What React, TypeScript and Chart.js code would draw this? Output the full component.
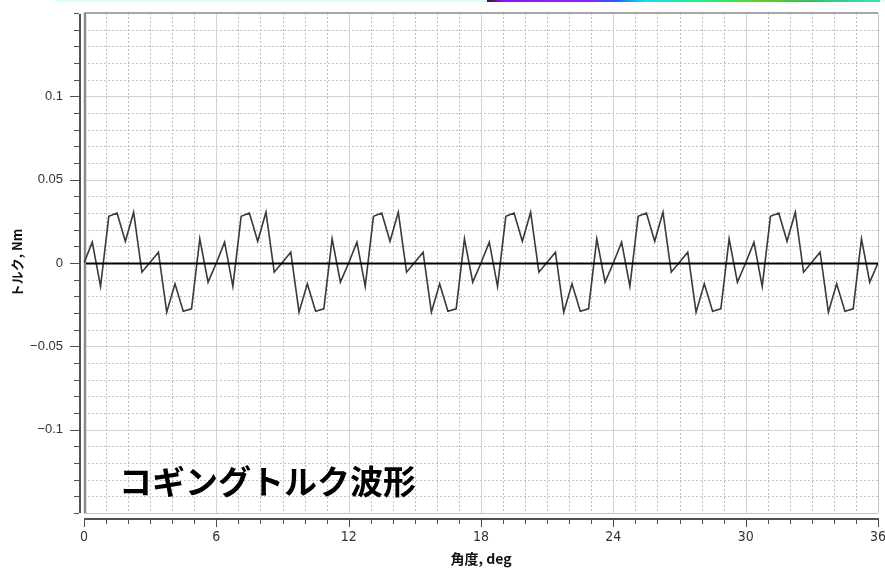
import { useEffect, useRef } from 'react';
import { Chart, registerables } from 'chart.js';

Chart.register(...registerables);

// Rotor angle (deg) of each sample
const angles = [
  0, 0.375, 0.75, 1.125, 1.5, 1.875, 2.25, 2.625, 3, 3.375, 3.75, 4.125, 4.5, 4.875, 5.25, 5.625,
  6, 6.375, 6.75, 7.125, 7.5, 7.875, 8.25, 8.625, 9, 9.375, 9.75, 10.125, 10.5, 10.875, 11.25, 11.625,
  12, 12.375, 12.75, 13.125, 13.5, 13.875, 14.25, 14.625, 15, 15.375, 15.75, 16.125, 16.5, 16.875, 17.25, 17.625,
  18, 18.375, 18.75, 19.125, 19.5, 19.875, 20.25, 20.625, 21, 21.375, 21.75, 22.125, 22.5, 22.875, 23.25, 23.625,
  24, 24.375, 24.75, 25.125, 25.5, 25.875, 26.25, 26.625, 27, 27.375, 27.75, 28.125, 28.5, 28.875, 29.25, 29.625,
  30, 30.375, 30.75, 31.125, 31.5, 31.875, 32.25, 32.625, 33, 33.375, 33.75, 34.125, 34.5, 34.875, 35.25, 35.625,
  36,
];

// Cogging torque (Nm) at each angle
const torque = [
  0, 0.0125, -0.014, 0.028, 0.03, 0.013, 0.0305, -0.0055, 0.0005, 0.0065, -0.0295, -0.0125, -0.029, -0.0275, 0.0145, -0.0115,
  0, 0.0125, -0.014, 0.028, 0.03, 0.013, 0.0305, -0.0055, 0.0005, 0.0065, -0.0295, -0.0125, -0.029, -0.0275, 0.0145, -0.0115,
  0, 0.0125, -0.014, 0.028, 0.03, 0.013, 0.0305, -0.0055, 0.0005, 0.0065, -0.0295, -0.0125, -0.029, -0.0275, 0.0145, -0.0115,
  0, 0.0125, -0.014, 0.028, 0.03, 0.013, 0.0305, -0.0055, 0.0005, 0.0065, -0.0295, -0.0125, -0.029, -0.0275, 0.0145, -0.0115,
  0, 0.0125, -0.014, 0.028, 0.03, 0.013, 0.0305, -0.0055, 0.0005, 0.0065, -0.0295, -0.0125, -0.029, -0.0275, 0.0145, -0.0115,
  0, 0.0125, -0.014, 0.028, 0.03, 0.013, 0.0305, -0.0055, 0.0005, 0.0065, -0.0295, -0.0125, -0.029, -0.0275, 0.0145, -0.0115,
  0,
];

const xTickValues = [0, 6, 12, 18, 24, 30, 36];
const xTickLabels = ['0', '6', '12', '18', '24', '30', '36'];
const yTickValues = [0.1, 0.05, 0, -0.05, -0.1];
const yTickLabels = ['0.1', '0.05', '0', '\u22120.05', '\u22120.1'];

const xMinorStep = 1;
const yMinorStep = 0.01;
const xMajorStep = 6;
const yMajorStep = 0.05;

const caption = 'コギングトルク波形';
const xTitle = '角度, deg';
const yTitle = 'トルク, Nm';

const isMultiple = (v: number, step: number) => Math.abs(v / step - Math.round(v / step)) < 1e-6;

const gridPlugin = {
  id: 'plotFrame',
  beforeDraw(chart: any) {
    const { ctx, chartArea: a, scales } = chart;
    const x = scales.x;
    const y = scales.y;
    ctx.save();
    ctx.fillStyle = '#ffffff';
    ctx.fillRect(0, 0, chart.width, chart.height);

    // thin strip along the top edge
    ctx.fillStyle = '#d6ffff';
    ctx.fillRect(55, 0, chart.width - 55, 2);
    const g = ctx.createLinearGradient(487, 0, 880, 0);
    g.addColorStop(0, '#202020');
    g.addColorStop(0.04, '#9a10f0');
    g.addColorStop(0.25, '#8a20ff');
    g.addColorStop(0.33, '#2060ff');
    g.addColorStop(0.4, '#10e0f0');
    g.addColorStop(0.55, '#20f080');
    g.addColorStop(0.7, '#60d020');
    g.addColorStop(0.82, '#30c060');
    g.addColorStop(1, '#40e0c0');
    ctx.fillStyle = g;
    ctx.fillRect(487, 0, 393, 2);

    // dotted minor grid
    ctx.lineWidth = 1;
    ctx.strokeStyle = '#c2c2c2';
    ctx.setLineDash([2, 2]);
    for (let v = x.min; v <= x.max + 1e-9; v += xMinorStep) {
      if (isMultiple(v, xMajorStep)) continue;
      const px = Math.round(x.getPixelForValue(v)) + 0.5;
      ctx.beginPath();
      ctx.moveTo(px, a.top);
      ctx.lineTo(px, a.bottom);
      ctx.stroke();
    }
    for (let k = Math.round(y.min / yMinorStep); k <= Math.round(y.max / yMinorStep); k++) {
      const v = k * yMinorStep;
      if (isMultiple(v, yMajorStep)) continue;
      const py = Math.round(y.getPixelForValue(v)) + 0.5;
      ctx.beginPath();
      ctx.moveTo(a.left, py);
      ctx.lineTo(a.right, py);
      ctx.stroke();
    }

    // solid major grid
    ctx.setLineDash([]);
    ctx.strokeStyle = '#d2d2d2';
    for (let v = x.min; v <= x.max + 1e-9; v += xMajorStep) {
      const px = Math.round(x.getPixelForValue(v)) + 0.5;
      ctx.beginPath();
      ctx.moveTo(px, a.top);
      ctx.lineTo(px, a.bottom);
      ctx.stroke();
    }
    for (let k = Math.round(y.min / yMajorStep); k <= Math.round(y.max / yMajorStep); k++) {
      const py = Math.round(y.getPixelForValue(k * yMajorStep)) + 0.5;
      ctx.beginPath();
      ctx.moveTo(a.left, py);
      ctx.lineTo(a.right, py);
      ctx.stroke();
    }

    // plot frame
    ctx.strokeStyle = '#a6a6a6';
    ctx.lineWidth = 2;
    ctx.beginPath();
    ctx.moveTo(a.left, a.top);
    ctx.lineTo(a.right, a.top);
    ctx.stroke();
    ctx.strokeStyle = '#c4c4c4';
    ctx.lineWidth = 1;
    ctx.beginPath();
    ctx.moveTo(a.right + 0.5, a.top);
    ctx.lineTo(a.right + 0.5, a.bottom);
    ctx.moveTo(a.left, a.bottom + 0.5);
    ctx.lineTo(a.right, a.bottom + 0.5);
    ctx.stroke();
    ctx.strokeStyle = '#8c8c8c';
    ctx.lineWidth = 2.5;
    ctx.beginPath();
    ctx.moveTo(a.left + 1, a.top);
    ctx.lineTo(a.left + 1, a.bottom);
    ctx.stroke();

    // detached y axis with ticks
    const axX = a.left - 4;
    ctx.strokeStyle = '#505050';
    ctx.lineWidth = 2;
    ctx.beginPath();
    ctx.moveTo(axX, a.top + 1);
    ctx.lineTo(axX, a.bottom);
    ctx.stroke();
    ctx.lineWidth = 1;
    for (let k = Math.round(y.min / yMinorStep); k <= Math.round(y.max / yMinorStep); k++) {
      const v = k * yMinorStep;
      const major = isMultiple(v, yMajorStep) && Math.abs(v) < y.max - 1e-9;
      const py = Math.round(y.getPixelForValue(v)) + 0.5;
      ctx.beginPath();
      ctx.moveTo(axX - 1, py);
      ctx.lineTo(axX - (major ? 10 : 6), py);
      ctx.stroke();
    }

    // detached x axis with ticks
    const axY = a.bottom + 6;
    ctx.lineWidth = 2;
    ctx.beginPath();
    ctx.moveTo(a.left, axY);
    ctx.lineTo(a.right + 1, axY);
    ctx.stroke();
    ctx.lineWidth = 1;
    for (let v = x.min; v <= x.max + 1e-9; v += xMinorStep) {
      const major = isMultiple(v, xMajorStep);
      const px = Math.round(x.getPixelForValue(v)) + 0.5;
      ctx.beginPath();
      ctx.moveTo(px, axY + 1);
      ctx.lineTo(px, axY + (major ? 8 : 5));
      ctx.stroke();
    }
    ctx.restore();
  },
  afterDatasetsDraw(chart: any) {
    const { ctx, chartArea: a, scales } = chart;
    const py = Math.round(scales.y.getPixelForValue(0)) + 0.5;
    ctx.save();
    ctx.strokeStyle = '#000000';
    ctx.lineWidth = 2;
    ctx.beginPath();
    ctx.moveTo(a.left + 2, py);
    ctx.lineTo(a.right, py);
    ctx.stroke();

    ctx.fillStyle = '#000000';
    ctx.font = 'bold 33px "Noto Sans CJK JP", sans-serif';
    ctx.textBaseline = 'middle';
    ctx.textAlign = 'left';
    ctx.fillText(caption, 119, 481);
    ctx.restore();
  },
};

export default function App() {
  const canvasRef = useRef<HTMLCanvasElement | null>(null);

  useEffect(() => {
    const canvas = canvasRef.current;
    if (!canvas) return;
    const chart = new Chart(canvas, {
      type: 'line',
      data: {
        datasets: [
          {
            data: angles.map((a, i) => ({ x: a, y: torque[i] })),
            borderColor: '#3a3a3a',
            borderWidth: 1.6,
            pointRadius: 0,
            tension: 0,
            fill: false,
          },
        ],
      },
      options: {
        responsive: false,
        animation: false,
        events: [],
        layout: { padding: { top: 13, right: 7, left: 0, bottom: 0 } },
        plugins: {
          legend: { display: false },
          tooltip: { enabled: false },
          title: { display: false },
        },
        scales: {
          x: {
            type: 'linear',
            min: 0,
            max: 36,
            afterFit: (s: any) => {
              s.height = 57;
              s.paddingLeft = 0;
              s.paddingRight = 0;
            },
            afterBuildTicks: (s: any) => {
              s.ticks = xTickValues.map((v) => ({ value: v }));
            },
            ticks: {
              callback: (_v: any, i: number) => xTickLabels[i],
              autoSkip: false,
              maxRotation: 0,
              padding: 16,
              color: '#333333',
              font: { family: '"Liberation Sans Narrow", "DejaVu Sans Condensed", sans-serif', size: 14 },
            },
            grid: { display: false, drawTicks: false },
            border: { display: false },
            title: {
              display: true,
              text: xTitle,
              color: '#111111',
              font: { family: '"Noto Sans CJK JP", sans-serif', size: 14, weight: 'bold' },
              padding: { top: 0, bottom: 3 },
            },
          },
          y: {
            type: 'linear',
            min: -0.15,
            max: 0.15,
            afterFit: (s: any) => {
              s.width = 84;
              s.paddingTop = 0;
              s.paddingBottom = 0;
            },
            afterBuildTicks: (s: any) => {
              s.ticks = yTickValues.map((v) => ({ value: v }));
            },
            ticks: {
              callback: (_v: any, i: number) => yTickLabels[i],
              autoSkip: false,
              padding: 21,
              color: '#333333',
              font: { family: '"Liberation Sans", Arial, sans-serif', size: 13 },
            },
            grid: { display: false, drawTicks: false },
            border: { display: false },
            title: {
              display: true,
              text: yTitle,
              color: '#111111',
              font: { family: '"Noto Sans CJK JP", sans-serif', size: 13, weight: 'bold' },
              padding: { top: 9, bottom: 0 },
            },
          },
        },
      },
      plugins: [gridPlugin],
    });
    return () => chart.destroy();
  }, []);

  return (
    <div style={{ position: 'fixed', left: 0, top: 0, width: 885, height: 570, background: '#fff' }}>
      <canvas ref={canvasRef} width={885} height={570} style={{ display: 'block', width: 885, height: 570 }} />
    </div>
  );
}
